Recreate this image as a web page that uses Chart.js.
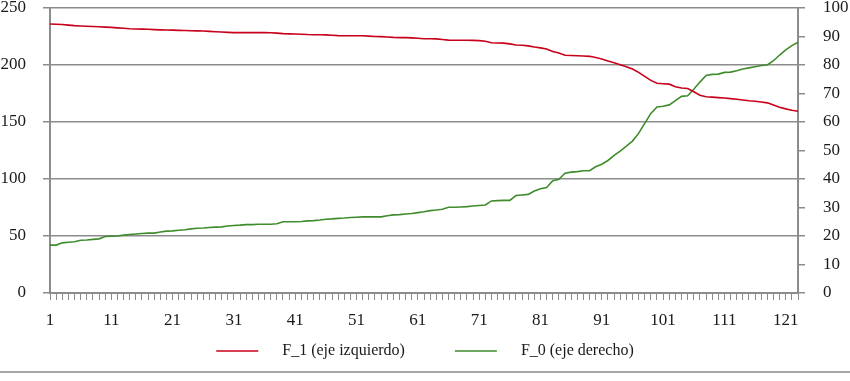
<!DOCTYPE html>
<html>
<head>
<meta charset="utf-8">
<script src="https://cdn.jsdelivr.net/npm/chart.js@4"></script>
<style>
  html, body { margin: 0; padding: 0; background: #fff; }
  #wrap { width: 850px; height: 371px; border-bottom: 2px solid #a6a6a6; }
</style>
</head>
<body>
<div id="wrap"><canvas id="chart" width="850" height="371"></canvas></div>
<script>
// categories 1..123
const categories = Array.from({ length: 123 }, (_, i) => String(i + 1));
const xTickLabels = ['1', '11', '21', '31', '41', '51', '61', '71', '81', '91', '101', '111', '121'];

// F_1 (left axis)
const f1 = [
  236, 235.8, 235.5, 235, 234.5, 234.2, 234, 233.8, 233.5, 233.2,
  233, 232.6, 232.2, 231.8, 231.6, 231.5, 231.3, 231, 230.8, 230.7,
  230.6, 230.4, 230.2, 230, 229.9, 229.8, 229.5, 229.2, 228.9, 228.6,
  228.4, 228.4, 228.4, 228.4, 228.4, 228.4, 228.3, 228, 227.5, 227.3,
  227.2, 227, 226.7, 226.6, 226.6, 226.4, 226.1, 225.8, 225.7, 225.7,
  225.7, 225.6, 225.3, 225, 224.9, 224.6, 224.2, 224, 224, 223.8,
  223.4, 223, 223, 222.9, 222.4, 221.8, 221.7, 221.7, 221.7, 221.6,
  221.4, 220.8, 219.5, 219.3, 219.2, 218.5, 217.5, 217.3, 216.8, 215.8,
  215, 214, 211.8, 210.5, 208.6, 208.3, 208.1, 207.9, 207.6, 206.5,
  205.3, 203.6, 202, 200.3, 198.5, 196.5, 193.5, 190, 186.5, 184,
  183.6, 183.2, 181, 179.8, 179.4, 176.5, 173.5, 172.1, 171.8, 171.4,
  171, 170.5, 170, 169.3, 168.6, 168.2, 167.6, 166.8, 165, 163,
  161.5, 160.3, 159.5
];

// F_0 (right axis)
const f0 = [
  16.8, 16.8, 17.6, 17.8, 18, 18.5, 18.6, 18.8, 19, 19.8,
  19.9, 20, 20.3, 20.5, 20.7, 20.9, 21, 21, 21.4, 21.7,
  21.8, 22, 22.2, 22.5, 22.7, 22.8, 23, 23.1, 23.2, 23.5,
  23.7, 23.8, 24, 24, 24.1, 24.1, 24.1, 24.3, 25, 25,
  25, 25.1, 25.3, 25.4, 25.6, 25.9, 26, 26.2, 26.3, 26.5,
  26.6, 26.7, 26.7, 26.7, 26.7, 27.1, 27.4, 27.5, 27.7, 27.9,
  28.2, 28.5, 28.9, 29.1, 29.4, 30.1, 30.1, 30.2, 30.3, 30.5,
  30.7, 30.9, 32.3, 32.4, 32.5, 32.5, 34.2, 34.4, 34.6, 35.8,
  36.6, 37, 39.4, 39.9, 42, 42.4, 42.6, 42.9, 42.9, 44.3,
  45.2, 46.5, 48.3, 49.8, 51.5, 53.3, 56, 59.5, 63, 65.3,
  65.5, 66, 67.5, 69, 69.2, 71.5, 74, 76.3, 76.7, 76.8,
  77.4, 77.5, 78, 78.6, 79, 79.4, 79.8, 80, 81.5, 83.5,
  85.3, 86.8, 88
];

const RED = '#c8001a';
const GREEN = '#3f8c2c';
const GRID = '#8c8c8c';
const TEXT = '#1a1a1a';
const tickFont = { family: '"Liberation Serif", "DejaVu Serif", serif', size: 17 };
const legendFont = { family: '"Liberation Serif", "DejaVu Serif", serif', size: 16 };

// spaces give the gaps between legend line and text, and between the two items
const GAP = '    ';
const TRAIL = '          ';

new Chart(document.getElementById('chart').getContext('2d'), {
  type: 'line',
  data: {
    labels: categories,
    datasets: [
      {
        label: GAP + 'F_1 (eje izquierdo)' + TRAIL,
        data: f1,
        yAxisID: 'y',
        borderColor: RED,
        backgroundColor: RED,
        borderWidth: 1.6,
        pointRadius: 0,
        tension: 0
      },
      {
        label: GAP + 'F_0 (eje derecho)',
        data: f0,
        yAxisID: 'y1',
        borderColor: GREEN,
        backgroundColor: GREEN,
        borderWidth: 1.6,
        pointRadius: 0,
        tension: 0
      }
    ]
  },
  options: {
    responsive: false,
    animation: false,
    layout: { padding: { top: 8, left: 0, right: 0, bottom: 2 } },
    plugins: {
      tooltip: { enabled: false },
      legend: {
        position: 'bottom',
        labels: {
          usePointStyle: true,
          pointStyle: 'line',
          pointStyleWidth: 42,
          padding: 10,
          color: TEXT,
          font: legendFont
        }
      }
    },
    scales: {
      x: {
        offset: false,
        grid: { drawOnChartArea: false, drawTicks: true, tickLength: 7, color: GRID, lineWidth: 1 },
        border: { color: GRID, width: 2 },
        ticks: {
          autoSkip: false,
          maxRotation: 0,
          minRotation: 0,
          padding: 10,
          color: TEXT,
          font: tickFont,
          callback: (v, i) => xTickLabels.includes(categories[i]) ? categories[i] : ''
        },
        afterFit: s => { s.height = 40; s.paddingLeft = 0; s.paddingRight = 0; }
      },
      y: {
        position: 'left',
        min: 0,
        max: 250,
        ticks: { stepSize: 50, padding: 17, color: TEXT, font: tickFont },
        grid: { color: GRID, lineWidth: 1.5, tickLength: 7 },
        border: { color: GRID, width: 2 },
        afterFit: s => { s.width = 50; s.paddingTop = 0; s.paddingBottom = 0; }
      },
      y1: {
        position: 'right',
        min: 0,
        max: 100,
        ticks: { stepSize: 10, padding: 18, color: TEXT, font: tickFont },
        grid: { drawOnChartArea: false, color: GRID, lineWidth: 1.5, tickLength: 7 },
        border: { color: GRID, width: 2 },
        afterFit: s => { s.width = 52; s.paddingTop = 0; s.paddingBottom = 0; }
      }
    }
  }
});
</script>
</body>
</html>
